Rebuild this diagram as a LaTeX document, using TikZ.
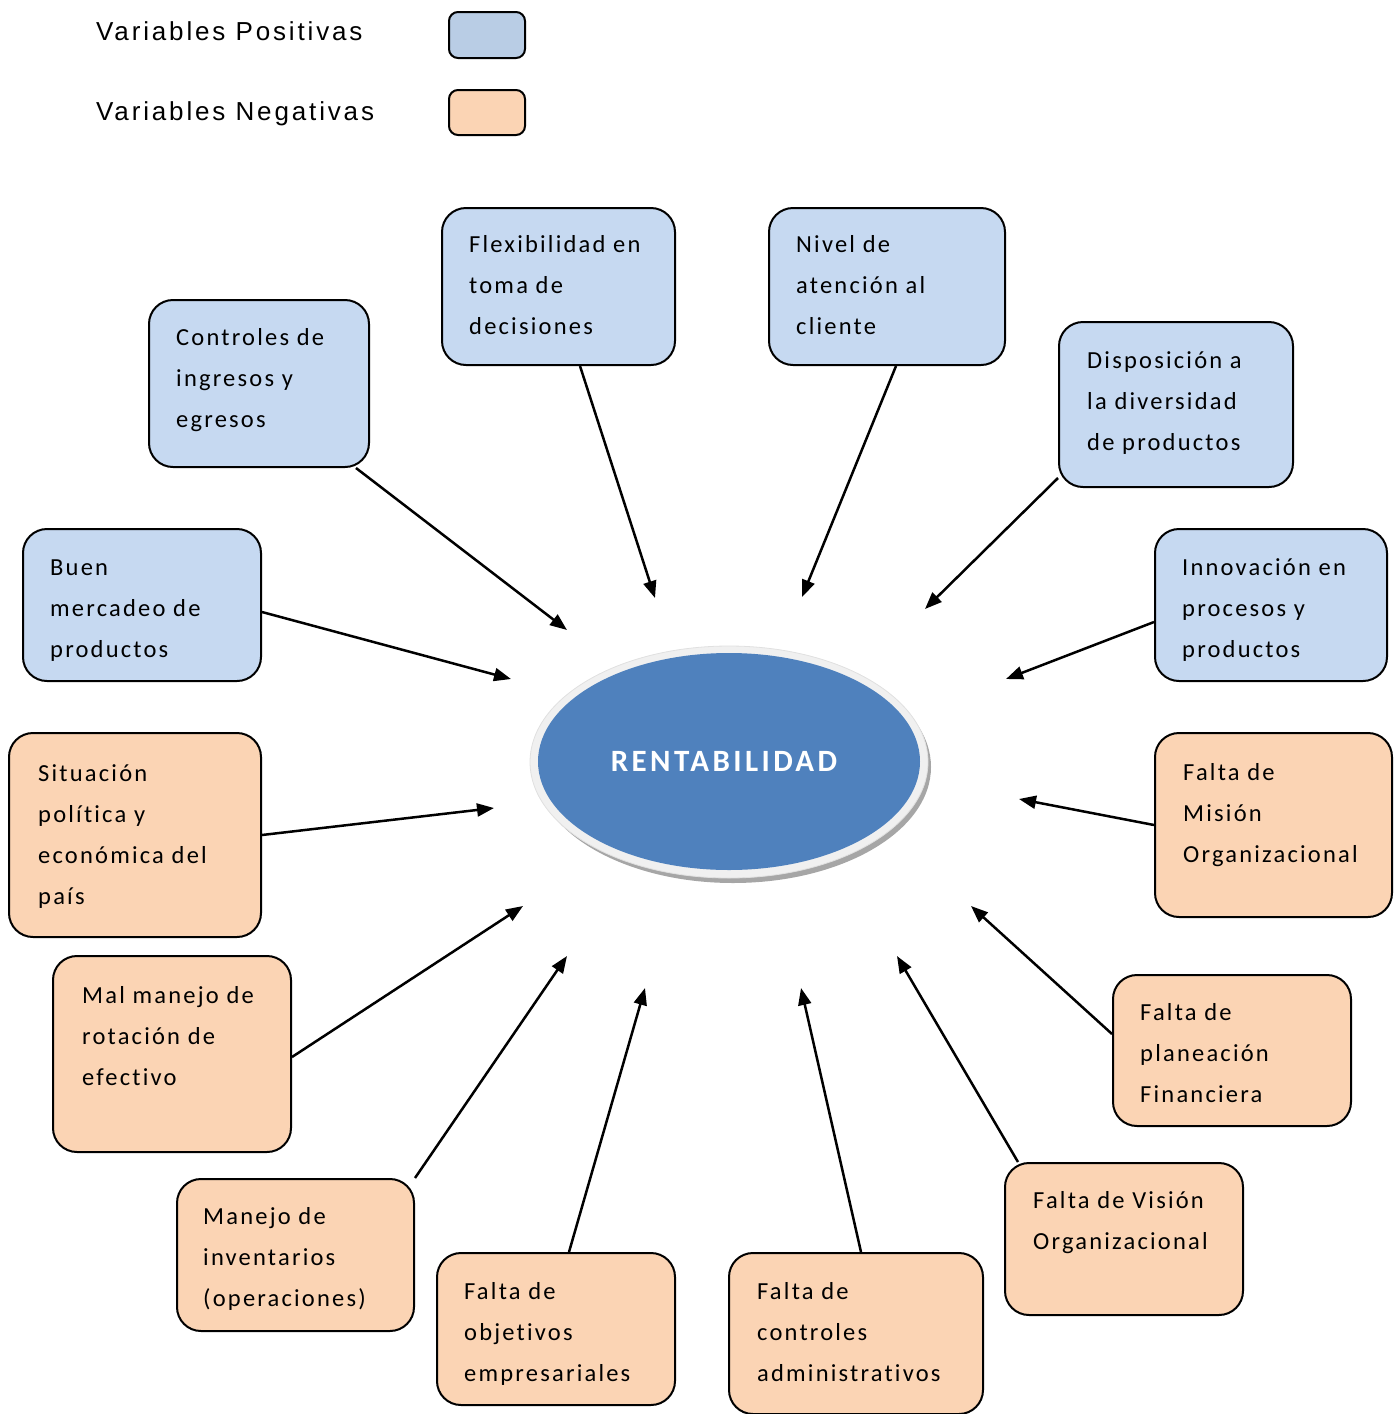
\documentclass[tikz,border=0pt]{standalone}
\usepackage{fontspec}
\setmainfont{Carlito}
\newfontfamily\legfont[LetterSpace=11]{Liberation Sans}
\newfontfamily\boxfont[LetterSpace=9,Ligatures={NoCommon}]{Carlito}
\newfontfamily\rentfont[LetterSpace=11,Ligatures={NoCommon}]{Carlito}
\usetikzlibrary{arrows.meta,shapes.geometric,backgrounds}
\definecolor{posfill}{HTML}{C6D9F1}
\definecolor{negfill}{HTML}{FBD4B4}
\definecolor{legpos}{HTML}{B9CDE5}
\definecolor{rentblue}{HTML}{4F81BD}
\definecolor{ringgray}{HTML}{F0F0F0}
\tikzset{
  box/.style={draw=black, line width=2pt, rounded corners=24pt, inner sep=0pt, anchor=north west},
  posbox/.style={box, fill=posfill},
  negbox/.style={box, fill=negfill},
  legbox/.style={draw=black, line width=2pt, rounded corners=9pt, inner sep=0pt, anchor=north west},
  txt/.style={font=\boxfont\fontsize{24.5}{41.3}\selectfont, inner sep=0pt, anchor=base west},
  leg/.style={font=\legfont\fontsize{26}{30}\selectfont, inner sep=0pt, anchor=base west},
  arr/.style={-{Triangle[length=17pt,width=13pt]}, line width=2.5pt, black},
}
\newcommand{\lines}[1]{\begin{tabular}[t]{@{}l@{}}#1\end{tabular}}
\begin{document}
\begin{tikzpicture}[x=1pt,y=-1pt]
\useasboundingbox (0,0) rectangle (1397,1414);

% legend
\node[leg] (lpos) at (96,40) {Variables Positivas};
\node[leg] (lneg) at (96,120) {Variables Negativas};
\node[legbox, fill=legpos, minimum width=76pt, minimum height=46pt] (lposbox) at (448,11) {};
\node[legbox, fill=negfill, minimum width=76pt, minimum height=45pt] (lnegbox) at (448,89) {};

% central ellipse
\fill[black!35] (733,767) ellipse [x radius=198pt, y radius=116pt];
\fill[ringgray, draw=black!12, line width=0.8pt] (729,762) ellipse [x radius=199pt, y radius=116pt];
\node[ellipse, fill=rentblue, minimum width=382pt, minimum height=217pt, inner sep=0pt,
      font=\rentfont\bfseries\fontsize{31}{36}\selectfont, text=white] (rent) at (729,761.5) {RENTABILIDAD\hspace*{10pt}};

% positive boxes
\node[posbox, minimum width=220pt, minimum height=167pt] (ctrl) at (148,299) {};
\node[posbox, minimum width=233pt, minimum height=157pt] (flex) at (441,207) {};
\node[posbox, minimum width=236pt, minimum height=157pt] (nivel) at (768,207) {};
\node[posbox, minimum width=234pt, minimum height=165pt] (disp) at (1058,321) {};
\node[posbox, minimum width=238pt, minimum height=152pt] (buen) at (22,528) {};
\node[posbox, minimum width=232pt, minimum height=152pt] (innov) at (1154,528) {};

% negative boxes
\node[negbox, minimum width=252pt, minimum height=204pt] (sit) at (8,732) {};
\node[negbox, minimum width=238pt, minimum height=196pt] (mal) at (52,955) {};
\node[negbox, minimum width=237pt, minimum height=152pt] (inv) at (176,1178) {};
\node[negbox, minimum width=238pt, minimum height=152pt] (obj) at (436,1252) {};
\node[negbox, minimum width=254pt, minimum height=161pt] (cadm) at (728,1252) {};
\node[negbox, minimum width=238pt, minimum height=152pt] (vis) at (1004,1162) {};
\node[negbox, minimum width=238pt, minimum height=151pt] (plan) at (1112,974) {};
\node[negbox, minimum width=237pt, minimum height=184pt] (mis) at (1154,732) {};

% texts
\node[txt] (ctrl-t) at (176,345) {\lines{Controles de\\ingresos y\\egresos}};
\node[txt] (flex-t) at (469,252) {\lines{Flexibilidad en\\toma de\\decisiones}};
\node[txt] (nivel-t) at (796,252) {\lines{Nivel de\\atención al\\cliente}};
\node[txt] (disp-t) at (1087,368) {\lines{Disposición a\\la diversidad\\de productos}};
\node[txt] (buen-t) at (50,575) {\lines{Buen\\mercadeo de\\productos}};
\node[txt] (innov-t) at (1182,575) {\lines{Innovación en\\procesos y\\productos}};
\node[txt] (sit-t) at (38,781) {\lines{Situación\\política y\\económica del\\país}};
\node[txt] (mal-t) at (82,1003) {\lines{Mal manejo de\\rotación de\\efectivo}};
\node[txt] (inv-t) at (203,1224) {\lines{Manejo de\\inventarios\\(operaciones)}};
\node[txt] (obj-t) at (464,1299) {\lines{Falta de\\objetivos\\empresariales}};
\node[txt] (cadm-t) at (757,1299) {\lines{Falta de\\controles\\administrativos}};
\node[txt] (vis-t) at (1033,1208) {\lines{Falta de Visión\\Organizacional}};
\node[txt] (plan-t) at (1140,1020) {\lines{Falta de\\planeación\\Financiera}};
\node[txt] (mis-t) at (1183,780) {\lines{Falta de\\Misión\\Organizacional}};

% arrow tips
\coordinate (t1) at (567,630);
\coordinate (t2) at (655,598);
\coordinate (t3) at (802,597);
\coordinate (t4) at (925,609);
\coordinate (t5) at (511,679);
\coordinate (t6) at (1006,679);
\coordinate (t7) at (494,808);
\coordinate (t8) at (1019,799);
\coordinate (t9) at (523,906);
\coordinate (t10) at (567,956);
\coordinate (t11) at (645,988);
\coordinate (t12) at (801,988);
\coordinate (t13) at (897,956);
\coordinate (t14) at (971,906);

\begin{pgfonlayer}{background}
\draw[arr] ([xshift=97pt]ctrl.south) -- (t1);
\draw[arr] ([xshift=21.5pt]flex.south) -- (t2);
\draw[arr] ([xshift=9pt]nivel.south) -- (t3);
\draw[arr] ([yshift=-73.5pt]disp.west) -- (t4);
\draw[arr] ([yshift=-7pt]buen.east) -- (t5);
\draw[arr] ([yshift=-17pt]innov.west) -- (t6);
\draw[arr] (sit.east) -- (t7);
\draw[arr] (mis.west) -- (t8);
\draw[arr] ([yshift=-3pt]mal.east) -- (t9);
\draw[arr] (inv.north east) -- (t10);
\draw[arr] ([xshift=13pt]obj.north) -- (t11);
\draw[arr] ([xshift=5pt]cadm.north) -- (t12);
\draw[arr] ([xshift=14pt]vis.north west) -- (t13);
\draw[arr] ([yshift=16.5pt]plan.west) -- (t14);
\end{pgfonlayer}
\end{tikzpicture}
\end{document}
